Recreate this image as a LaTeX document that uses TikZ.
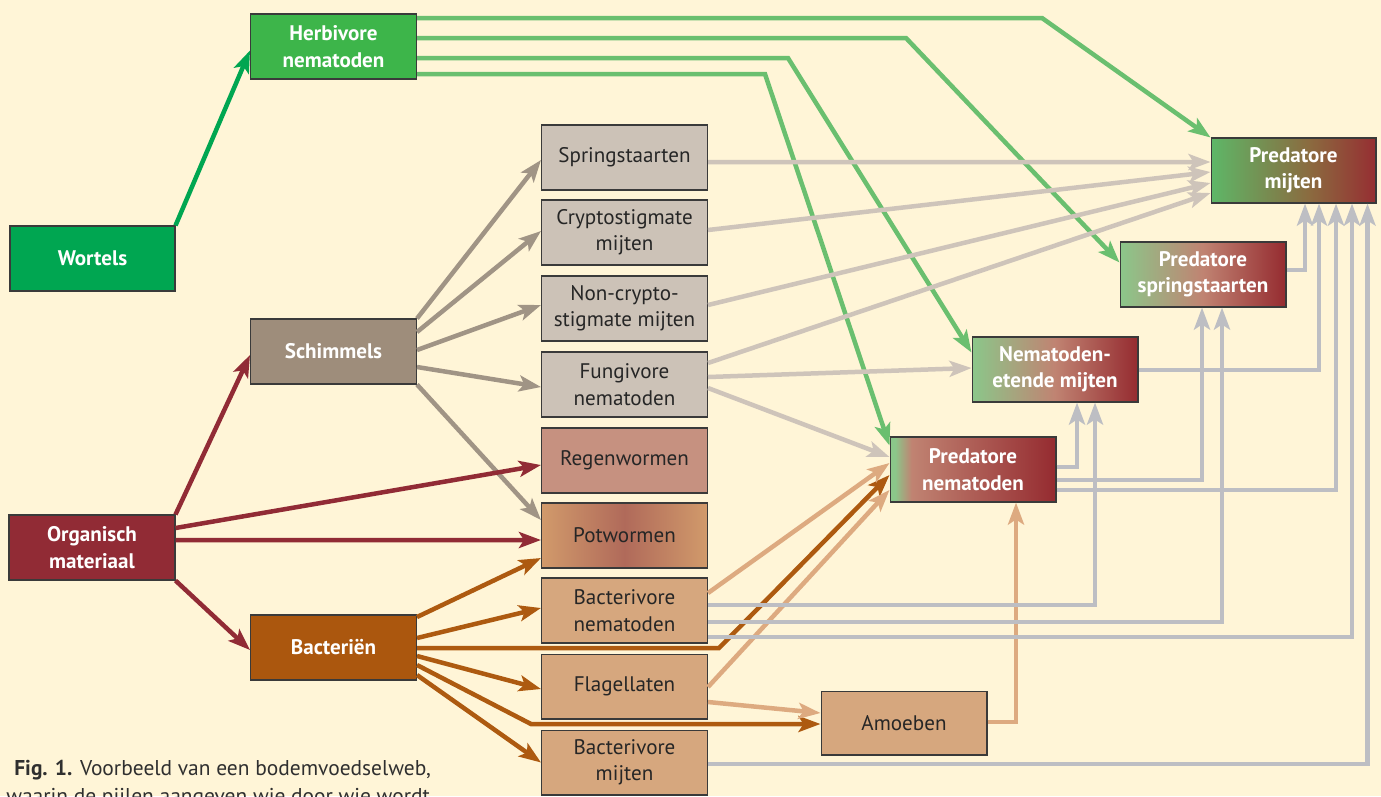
\documentclass[tikz,border=0pt]{standalone}
\usepackage{fontspec}
\setmainfont{PT Sans}
\usetikzlibrary{positioning}
\usetikzlibrary{arrows.meta, shapes, backgrounds, calc}

\definecolor{bgcream}{HTML}{FFF5D7}
\definecolor{rootgreen}{HTML}{00A651}
\definecolor{herbgreen}{HTML}{3DB54A}
\definecolor{herbline}{HTML}{6ABF6F}
\definecolor{fungbrown}{HTML}{9E8D7B}
\definecolor{fungline}{HTML}{A09485}
\definecolor{orgred}{HTML}{912B35}
\definecolor{bactbrown}{HTML}{AB570E}
\definecolor{bactline}{HTML}{AD5A10}
\definecolor{greybox}{HTML}{CCC2B7}
\definecolor{greyline}{HTML}{CEC4BA}
\definecolor{wormred}{HTML}{C69180}
\definecolor{potedge}{HTML}{D19A6B}
\definecolor{potmid}{HTML}{B06A5A}
\definecolor{tanbox}{HTML}{D6A77E}
\definecolor{tanline}{HTML}{DDAA80}
\definecolor{predline}{HTML}{BDBEC3}
\definecolor{boxborder}{HTML}{3A3A3A}
\definecolor{captext}{HTML}{2F2F2F}
\definecolor{pmG}{HTML}{5DB868}
\definecolor{pmM}{HTML}{8B6A3F}
\definecolor{pmR}{HTML}{962E32}
\definecolor{psG}{HTML}{8BC78A}
\definecolor{psM}{HTML}{C08372}
\definecolor{psR}{HTML}{952B30}

\pgfdeclarehorizontalshading{predmijt}{100bp}{color(0bp)=(pmG); color(25bp)=(pmG); color(29bp)=(pmG!85!pmM); color(55bp)=(pmM); color(75bp)=(pmR); color(100bp)=(pmR)}
\pgfdeclarehorizontalshading{predspring}{100bp}{color(0bp)=(psG); color(25bp)=(psG); color(50bp)=(psM); color(75bp)=(psR); color(100bp)=(psR)}
\pgfdeclarehorizontalshading{prednem}{100bp}{color(0bp)=(psG); color(25bp)=(psG); color(26.5bp)=(psG); color(31.5bp)=(psM); color(75bp)=(psR); color(100bp)=(psR)}

\begin{document}
\begin{tikzpicture}[x=0.02cm, y=-0.02cm, >=Stealth]%

            \tikzstyle{box} = [ rectangle, draw = boxborder, line width = 0.6pt, minimum width = 3.32cm, minimum height = 1.3cm, inner sep = 0pt, align = center, font = \fontsize{12}{15}\selectfont]
            \tikzstyle{src} = [ box, text = white, font = \fontsize{12}{15}\selectfont\bfseries]
            \tikzstyle{prey} = [ box, text = black!85]
            \tikzstyle{pred} = [ box, text = white, font = \fontsize{12}{15}\selectfont\bfseries]
            \tikzstyle{feed} = [ -{Stealth[length = 0.44cm, width = 0.32cm, inset = 0.1cm]}, line width = 0.09cm]
        %
            \useasboundingbox [fill = bgcream] (0,0) rectangle (1381,796);

                %% Sources
                \node [src, fill = rootgreen, minimum width = 3.3cm] (wortels) at (92.5,258.5) {Wortels};
                \node [src, fill = herbgreen] (herbnem) at (333.5,46.5) {Herbivore\\nematoden};
                \node [src, fill = fungbrown] (schim) at (333.5,351.5) {Schimmels};
                \node [src, fill = orgred] (organ) at (92,547.5) {Organisch\\materiaal};
                \node [src, fill = bactbrown] (bact) at (333.5,647.5) {Bacteri\"en};

                %% Prey groups
                \node [prey, fill = greybox] (spring) at (624.5,157.5) {Springstaarten};
                \node [prey, fill = greybox] (crypto) at (624.5,232.5) {Cryptostigmate\\mijten};
                \node [prey, fill = greybox] (noncr) at (624.5,308.5) {Non-crypto-\\stigmate mijten};
                \node [prey, fill = greybox] (fungi) at (624.5,384.5) {Fungivore\\nematoden};
                \node [prey, fill = wormred] (regen) at (624.5,460.5) {Regenwormen};
                \node [prey, left color = potedge, right color = potedge, middle color = potmid] (potw) at (624.5,535.5) {Potwormen};
                \node [prey, fill = tanbox] (bnem) at (624.5,610.5) {Bacterivore\\nematoden};
                \node [prey, fill = tanbox] (flag) at (624.5,686.5) {Flagellaten};
                \node [prey, fill = tanbox] (bmijt) at (624.5,762.5) {Bacterivore\\mijten};
                \node [prey, fill = tanbox, minimum height = 1.28cm] (amoeb) at (904,723) {Amoeben};

                %% Predators
                \node [pred, shading = predmijt, minimum width = 3.3cm] (pmijt) at (1293.5,170.5) {Predatore\\mijten};
                \node [pred, shading = predspring] (pspring) at (1203,274.5) {Predatore\\springstaarten};
                \node [pred, shading = predspring] (nemet) at (1055,369.5) {Nematoden-\\etende mijten};
                \node [pred, shading = prednem] (pnem) at (973,469.5) {Predatore\\nematoden};

                %% Roots and herbivores
                \draw[feed, rootgreen] (wortels.north east) -- ($(herbnem.west)+(0,4)$);
                \draw[feed, herbline] ($(herbnem.east)+(0,-28.5)$) -- (1042,18) -- (pmijt.north west);
                \draw[feed, herbline] ($(herbnem.east)+(0,-8.5)$) -- (906,38) -- ($(pspring.west)+(0,-12)$);
                \draw[feed, herbline] ($(herbnem.east)+(0,11.5)$) -- (788,58) -- ($(nemet.west)+(0,-17)$);
                \draw[feed, herbline] ($(herbnem.east)+(0,27.5)$) -- (765,74) -- ($(pnem.west)+(0,-24)$);

                %% Fungi
                \draw[feed, fungline] (schim.north east) -- ($(spring.west)+(0,2.5)$);
                \draw[feed, fungline] ($(schim.east)+(0,-19.5)$) -- ($(crypto.west)+(0,-1.5)$);
                \draw[feed, fungline] ($(schim.east)+(0,-1.5)$) -- ($(noncr.west)+(0,-3.5)$);
                \draw[feed, fungline] ($(schim.east)+(0,15.5)$) -- ($(fungi.west)+(0,2.5)$);
                \draw[feed, fungline] (schim.south east) -- ($(potw.west)+(0,-15.5)$);

                %% Organic matter
                \draw[feed, orgred] (organ.north east) -- ($(schim.west)+(0,3.5)$);
                \draw[feed, orgred] ($(organ.east)+(0,-19.5)$) -- ($(regen.west)+(0,4.5)$);
                \draw[feed, orgred] ($(organ.east)+(0,-7.5)$) -- ($(potw.west)+(0,4.5)$);
                \draw[feed, orgred] (organ.south east) -- ($(bact.west)+(0,2.5)$);

                %% Bacteria
                \draw[feed, bactline] ($(bact.east)+(0,-30.5)$) -- ($(potw.west)+(0,22.5)$);
                \draw[feed, bactline] ($(bact.east)+(0,-9.5)$) -- ($(bnem.west)+(0,-2.5)$);
                \draw[feed, bactline] ($(bact.east)+(0,0.5)$) -- (719,648) -- ($(pnem.west)+(0,5.5)$);
                \draw[feed, bactline] ($(bact.east)+(0,8.5)$) -- ($(flag.west)+(0,2.5)$);
                \draw[feed, bactline] ($(bact.east)+(0,17.5)$) -- (531,724) -- ($(amoeb.west)+(0,1)$);
                \draw[feed, bactline] ($(bact.east)+(0,27.5)$) -- (bmijt.west);

                %% Fungal feeders
                \draw[feed, greyline] ($(spring.east)+(0,4.5)$) -- ($(pmijt.west)+(0,-8.5)$);
                \draw[feed, greyline] ($(crypto.east)+(0,-2.5)$) -- ($(pmijt.west)+(0,1.5)$);
                \draw[feed, greyline] ($(noncr.east)+(0,-3.5)$) -- ($(pmijt.west)+(0,12.5)$);
                \draw[feed, greyline] ($(fungi.east)+(0,-21.5)$) -- ($(pmijt.west)+(0,22.5)$);
                \draw[feed, greyline] ($(fungi.east)+(0,-7.5)$) -- ($(nemet.west)+(0,-1.5)$);
                \draw[feed, greyline] ($(fungi.east)+(0,3.5)$) -- ($(pnem.west)+(0,-12.5)$);

                %% Bacterial feeders
                \draw[feed, tanline] ($(bnem.east)+(0,-17.5)$) -- ($(pnem.west)+(0,-6.5)$);
                \draw[feed, tanline] ($(flag.east)+(0,0.5)$) -- ($(pnem.west)+(0,20.5)$);
                \draw[feed, tanline] ($(flag.east)+(0,15.5)$) -- ($(amoeb.west)+(0,-10)$);
                \draw[feed, tanline] ($(amoeb.east)+(0,-1)$) -| ($(pnem.south)+(43,0)$);

                %% Predators
                \draw[feed, predline] ($(pnem.east)+(0,-2.5)$) -| ($(nemet.south)+(22,0)$);
                \draw[feed, predline] ($(pnem.east)+(0,10.5)$) -| ($(pspring.south)+(-1,0)$);
                \draw[feed, predline] ($(pnem.east)+(0,20.5)$) -| ($(pmijt.south)+(42.5,0)$);
                \draw[feed, predline] ($(bnem.east)+(0,-5.5)$) -| ($(nemet.south)+(40,0)$);
                \draw[feed, predline] ($(bnem.east)+(0,11.5)$) -| ($(pspring.south)+(19,0)$);
                \draw[feed, predline] ($(bnem.east)+(0,26.5)$) -| ($(pmijt.south)+(58.5,0)$);
                \draw[feed, predline] ($(bmijt.east)+(0,1.5)$) -| ($(pmijt.south)+(74,0)$);
                \draw[feed, predline] ($(pspring.east)+(0,-4.5)$) -| ($(pmijt.south)+(11.5,0)$);
                \draw[feed, predline] ($(nemet.east)+(0,0.5)$) -| ($(pmijt.south)+(25.5,0)$);

                %% Caption
                \node [anchor = base west, text = captext, font = \fontsize{12.2}{15}\selectfont, inner sep = 0pt] (cap1) at (14,775) {\textbf{Fig. 1.} Voorbeeld van een bodemvoedselweb,};
                \node [anchor = base west, text = captext, font = \fontsize{12.2}{15}\selectfont, inner sep = 0pt] (cap2) at (6,803) {waarin de pijlen aangeven wie door wie wordt};

        \end{tikzpicture}
\end{document}
